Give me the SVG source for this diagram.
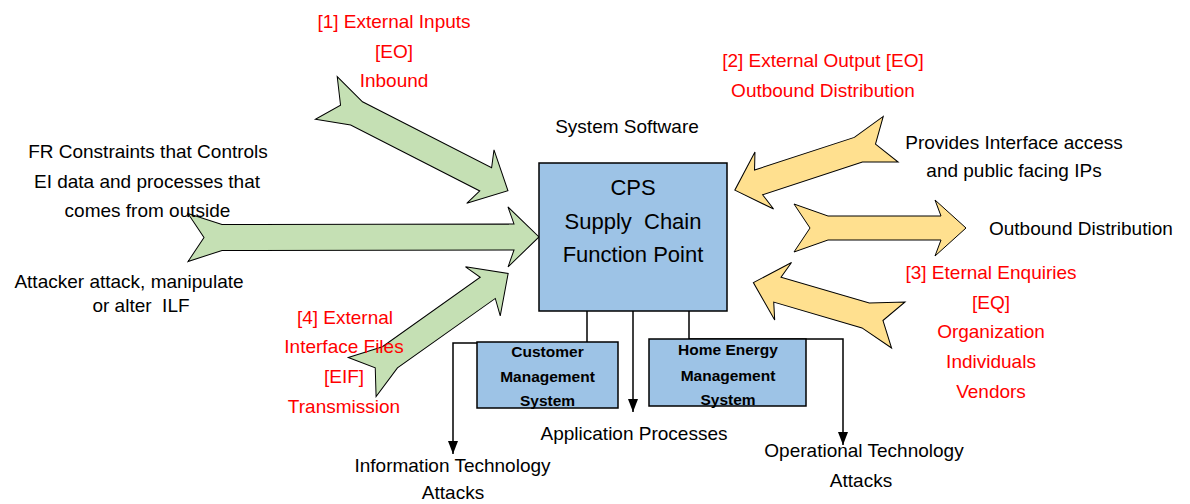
<svg xmlns="http://www.w3.org/2000/svg" width="1190" height="504" viewBox="0 0 1190 504">
<style>
  text { font-family: "Liberation Sans", Arial, sans-serif; font-size: 19px; fill: #000; text-anchor: middle; }
  .red { fill: #FF0000; }
  .big { font-size: 22px; }
  .bold { font-weight: bold; font-size: 15.5px; }
  .green { fill: #C5E0B4; stroke: #000; stroke-width: 1; stroke-linejoin: miter; }
  .yellow { fill: #FFE08F; stroke: #000; stroke-width: 1; stroke-linejoin: miter; }
  .box { fill: #9DC3E6; stroke: #000; stroke-width: 1.5; }
  .conn { fill: none; stroke: #000; stroke-width: 1.5; }
</style>
<defs>
  <marker id="ah" viewBox="0 0 13 10" refX="13" refY="5" markerWidth="13" markerHeight="10" orient="auto" markerUnits="userSpaceOnUse">
    <path d="M0,0 L13,5 L0,10 Z" fill="#000"/>
  </marker>
</defs>
<rect width="1190" height="504" fill="#fff"/>

<g id="connectors">
  <path class="conn" d="M587,311 V342"/>
  <path class="conn" d="M633,311 V412" marker-end="url(#ah)"/>
  <path class="conn" d="M689,311 V339 H843 V445" marker-end="url(#ah)"/>
  <path class="conn" d="M477,343 H453 V454" marker-end="url(#ah)"/>
</g>

<g id="arrow-inputs">
  <polygon class="green" transform="translate(326.3,97.9) rotate(27.07)" points="0,-24 34,-13 179,-13 173,-30 204,0 173,30 179,13 34,13 0,24 16,0"/>
</g>
<g id="arrow-constraints">
  <polygon class="green" transform="translate(188,237.5) rotate(-0.1)" points="0,-24 34,-13 326,-13 320,-30 351,0 320,30 326,13 34,13 0,24 16,0"/>
</g>
<g id="arrow-interface-files">
  <polygon class="green" transform="translate(362.2,377) rotate(-35.37)" points="0,-24 34,-13 154,-13 148,-30 179,0 148,30 154,13 34,13 0,24 16,0"/>
</g>
<g id="arrow-provides">
  <polygon class="yellow" transform="translate(890.7,139.2) rotate(161.9)" points="0,-24 34,-13 139,-13 133,-30 164,0 133,30 139,13 34,13 0,24 16,0"/>
</g>
<g id="arrow-outbound">
  <polygon class="yellow" transform="translate(794,228)" points="0,-24 34,-12 147,-12 141,-28 172,0 141,28 147,12 34,12 0,24 16,0"/>
</g>
<g id="arrow-enquiries">
  <polygon class="yellow" transform="translate(898.3,325) rotate(-163.7)" points="0,-24 34,-13 126,-13 120,-30 151,0 120,30 126,13 34,13 0,24 16,0"/>
</g>

<g id="cps">
  <rect class="box" x="539" y="163" width="188" height="148"/>
  <text class="big" x="633" y="195">CPS</text>
  <text class="big" x="633" y="228.5" xml:space="preserve">Supply  Chain</text>
  <text class="big" x="633" y="262">Function Point</text>
</g>

<g id="customer-management">
  <rect class="box" x="477" y="342" width="141" height="66"/>
  <text class="bold" x="547.5" y="357">Customer</text>
  <text class="bold" x="547.5" y="382">Management</text>
  <text class="bold" x="547.5" y="406">System</text>
</g>

<g id="home-energy">
  <rect class="box" x="649" y="339" width="157" height="67"/>
  <text class="bold" x="728" y="355">Home Energy</text>
  <text class="bold" x="728" y="381">Management</text>
  <text class="bold" x="728" y="405">System</text>
</g>

<g id="label-inputs">
  <text class="red" x="394" y="28">[1] External Inputs</text>
  <text class="red" x="394" y="58">[EO]</text>
  <text class="red" x="394" y="87">Inbound</text>
</g>
<g id="label-output">
  <text class="red" x="823" y="67">[2] External Output [EO]</text>
  <text class="red" x="823" y="97">Outbound Distribution</text>
</g>
<g id="label-system-software">
  <text x="627" y="133">System Software</text>
</g>
<g id="label-constraints">
  <text x="148" y="158">FR Constraints that Controls</text>
  <text x="147" y="188">EI data and processes that</text>
  <text x="147.5" y="217">comes from outside</text>
</g>
<g id="label-attacker">
  <text x="129" y="288">Attacker attack, manipulate</text>
  <text x="141" y="312" xml:space="preserve">or alter  ILF</text>
</g>
<g id="label-interface-files">
  <text class="red" x="345" y="324">[4] External</text>
  <text class="red" x="344" y="353">Interface Files</text>
  <text class="red" x="344" y="383">[EIF]</text>
  <text class="red" x="344" y="413">Transmission</text>
</g>
<g id="label-provides">
  <text x="1014" y="149">Provides Interface access</text>
  <text x="1014" y="177">and public facing IPs</text>
</g>
<g id="label-outbound">
  <text x="989" y="235" style="text-anchor:start">Outbound Distribution</text>
</g>
<g id="label-enquiries">
  <text class="red" x="991" y="279">[3] Eternal Enquiries</text>
  <text class="red" x="991" y="309">[EQ]</text>
  <text class="red" x="991" y="338">Organization</text>
  <text class="red" x="991" y="368">Individuals</text>
  <text class="red" x="991" y="398">Vendors</text>
</g>
<g id="label-application">
  <text x="634" y="440">Application Processes</text>
</g>
<g id="label-it">
  <text x="452.5" y="472">Information Technology</text>
  <text x="453" y="499">Attacks</text>
</g>
<g id="label-ot">
  <text x="864" y="457">Operational Technology</text>
  <text x="861" y="487">Attacks</text>
</g>
</svg>
